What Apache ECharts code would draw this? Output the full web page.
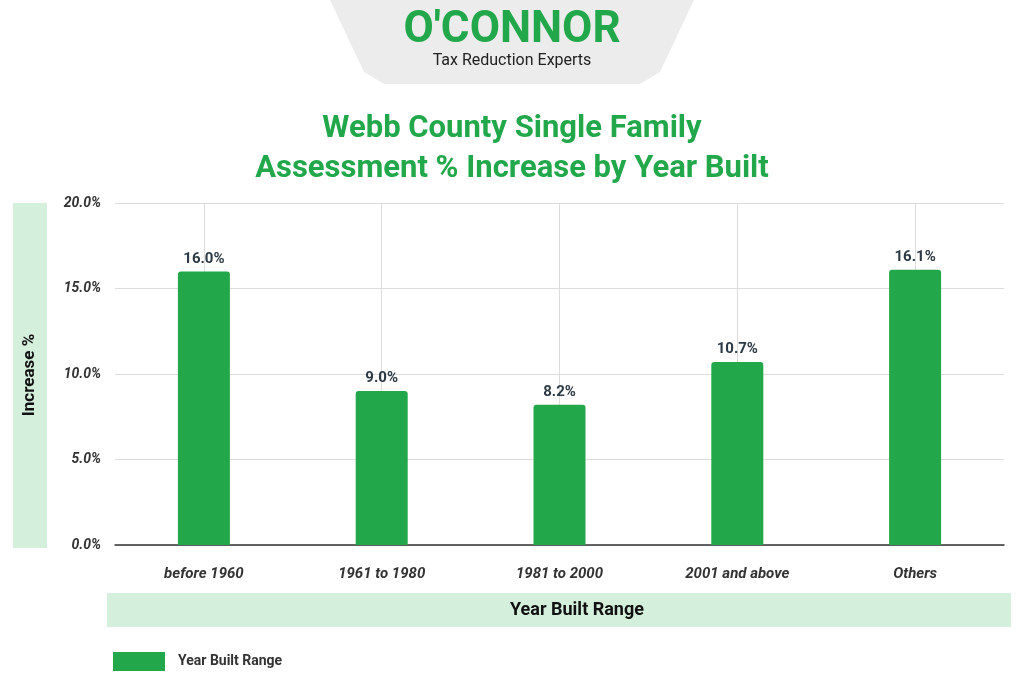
<!DOCTYPE html>
<html>
<head>
<meta charset="utf-8">
<script src="https://cdn.jsdelivr.net/npm/echarts@6/dist/echarts.min.js"></script>
<style>html,body{margin:0;padding:0;background:#fff}#main{width:1024px;height:682px}</style>
</head>
<body>
<div id="main"></div>
<script>
var categories = ['before 1960', '1961 to 1980', '1981 to 2000', '2001 and above', 'Others'];
var values = [16.0, 9.0, 8.2, 10.7, 16.1];
var yTicks = [0, 5, 10, 15, 20];
var green = '#22a84a';

var chart = echarts.init(document.getElementById('main'));
var option = {
  animation: false,
  title: {
    text: 'Webb County Single Family\nAssessment % Increase by Year Built',
    left: 'center', top: 104,
    textStyle: { color: green, fontSize: 31, fontWeight: 'bold', fontFamily: 'Roboto', lineHeight: 40 }
  },
  graphic: [
    { type: 'polygon', shape: { points: [[330, 0], [694, 0], [660, 72], [640, 84], [384, 84], [364, 72]] }, style: { fill: '#ececec' } },
    { type: 'text', left: 'center', top: 9, style: { text: "O'CONNOR", fill: green, font: 'bold 44px Roboto', letterSpacing: 1 } },
    { type: 'text', left: 'center', top: 53, style: { text: 'Tax Reduction Experts', fill: '#222', font: '16px Roboto', letterSpacing: 2 } },
    { type: 'rect', shape: { x: 13, y: 203, width: 34, height: 345 }, style: { fill: '#d4efdc' } },
    { type: 'text', x: 30, y: 375, rotation: Math.PI / 2, style: { text: 'Increase %', fill: '#111', font: 'bold 17px Roboto', align: 'center', verticalAlign: 'middle' } },
    { type: 'rect', shape: { x: 107, y: 593, width: 904, height: 34 }, style: { fill: '#d4efdc' } },
    { type: 'text', x: 577, y: 610, style: { text: 'Year Built Range', fill: '#111', font: 'bold 18px Roboto', align: 'center', verticalAlign: 'middle' } }
  ],
  legend: {
    left: 108, top: 647, itemWidth: 52, itemHeight: 19, icon: 'rect',
    textStyle: { fontSize: 14, fontWeight: 'bold', color: '#333', fontFamily: 'Roboto', padding: [0, 0, 0, 8] },
    data: ['Year Built Range']
  },
  grid: { left: 115, right: 20, top: 203, bottom: 137 },
  xAxis: {
    type: 'category', data: categories,
    axisLine: { lineStyle: { color: '#333', width: 1.5 } },
    axisTick: { show: false },
    axisLabel: { margin: 22, fontSize: 15, fontStyle: 'italic', fontWeight: 'bold', color: '#333', fontFamily: 'Roboto' }
  },
  yAxis: {
    type: 'value', min: yTicks[0], max: yTicks[yTicks.length - 1], interval: 5,
    axisLabel: { formatter: function (v) { return v.toFixed(1) + '%'; }, fontSize: 14, fontStyle: 'italic', fontWeight: 'bold', color: '#333', margin: 14, fontFamily: 'Roboto' },
    splitLine: { lineStyle: { color: '#dcdcdc' } }
  },
  series: [{
    name: 'Year Built Range', type: 'bar', data: values, barWidth: 52,
    itemStyle: { color: green, borderRadius: [3, 3, 0, 0] },
    label: { show: true, position: 'top', formatter: function (p) { return p.value.toFixed(1) + '%'; }, fontSize: 15, fontWeight: 'bold', color: '#2d3a45', fontFamily: 'Roboto' },
    markLine: {
      silent: true, symbol: 'none', label: { show: false }, z: 1,
      lineStyle: { color: '#dcdcdc', type: 'solid', width: 1 },
      data: categories.map(function (c) { return { xAxis: c }; })
    },
    z: 3
  }]
};
chart.setOption(option);
</script>
</body>
</html>
